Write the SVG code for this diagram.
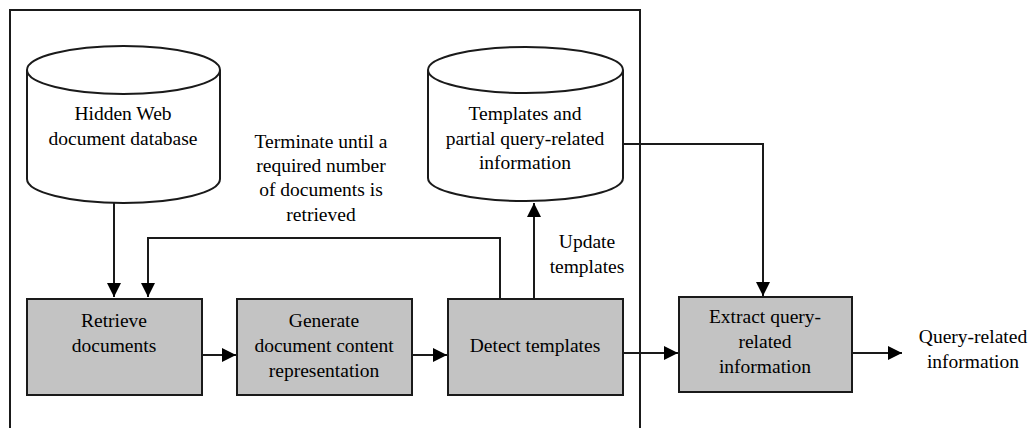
<svg xmlns="http://www.w3.org/2000/svg" width="1032" height="428" viewBox="0 0 1032 428">
<style>
text{font-family:"Times New Roman","Liberation Serif","DejaVu Serif","Noto Serif",Times,serif;font-size:19.5px;fill:#000;text-anchor:middle}
.box{fill:#c3c3c3;stroke:#1a1a1a;stroke-width:2}
.cyl{fill:#fff;stroke:#1a1a1a;stroke-width:2}
.ln{fill:none;stroke:#1a1a1a;stroke-width:2}
</style>
<defs>
<marker id="ah" viewBox="0 0 14 14" refX="14" refY="7" markerWidth="14" markerHeight="14" markerUnits="userSpaceOnUse" orient="auto">
<path d="M0,0 L14,7 L0,14 Z" fill="#000"/>
</marker>
</defs>
<rect width="1032" height="428" fill="#fff"/>
<path id="frame" class="ln" d="M10,430 L10,10 L640,10 L640,430"/>
<g id="connectors">
<path class="ln" d="M114,203 L114,297" marker-end="url(#ah)"/>
<path class="ln" d="M500,298 L500,238 L148,238 L148,297" marker-end="url(#ah)"/>
<path class="ln" d="M534,298 L534,203" marker-end="url(#ah)"/>
<path class="ln" d="M202,355 L236,355" marker-end="url(#ah)"/>
<path class="ln" d="M412,355 L447,355" marker-end="url(#ah)"/>
<path class="ln" d="M623,353 L678,353" marker-end="url(#ah)"/>
<path class="ln" d="M623,144 L763,144 L763,296" marker-end="url(#ah)"/>
<path class="ln" d="M852,353 L902,353" marker-end="url(#ah)"/>
</g>
<g id="db-hidden">
<path class="cyl" d="M27,70 A96.5,24 0 0 1 220,70 L220,179 A96.5,24 0 0 1 27,179 Z"/>
<path class="ln" d="M27,70 A96.5,24 0 0 0 220,70"/>
<text x="123" y="120">Hidden Web</text>
<text x="123" y="145">document database</text>
</g>
<g id="db-templates">
<path class="cyl" d="M428,70 A97.5,23 0 0 1 623,70 L623,178 A97.5,23 0 0 1 428,178 Z"/>
<path class="ln" d="M428,70 A97.5,23 0 0 0 623,70"/>
<text x="525" y="120">Templates and</text>
<text x="525" y="145">partial query-related</text>
<text x="525" y="169">information</text>
</g>
<g id="note-terminate">
<text x="321" y="148">Terminate until a</text>
<text x="321" y="172">required number</text>
<text x="321" y="196">of documents is</text>
<text x="321" y="221">retrieved</text>
</g>
<g id="note-update">
<text x="587" y="248">Update</text>
<text x="587" y="273">templates</text>
</g>
<g id="retrieve">
<rect class="box" x="27" y="299" width="175" height="96"/>
<text x="114" y="327">Retrieve</text>
<text x="114" y="352">documents</text>
</g>
<g id="generate">
<rect class="box" x="237" y="299" width="175" height="96"/>
<text x="324" y="327">Generate</text>
<text x="324" y="352">document content</text>
<text x="324" y="377">representation</text>
</g>
<g id="detect">
<rect class="box" x="448" y="299" width="175" height="96"/>
<text x="535" y="352">Detect templates</text>
</g>
<g id="extract">
<rect class="box" x="679" y="297" width="173" height="95"/>
<text x="765" y="323">Extract query-</text>
<text x="765" y="348">related</text>
<text x="765" y="373">information</text>
</g>
<g id="output">
<text x="973" y="343">Query-related</text>
<text x="973" y="368">information</text>
</g>
</svg>
